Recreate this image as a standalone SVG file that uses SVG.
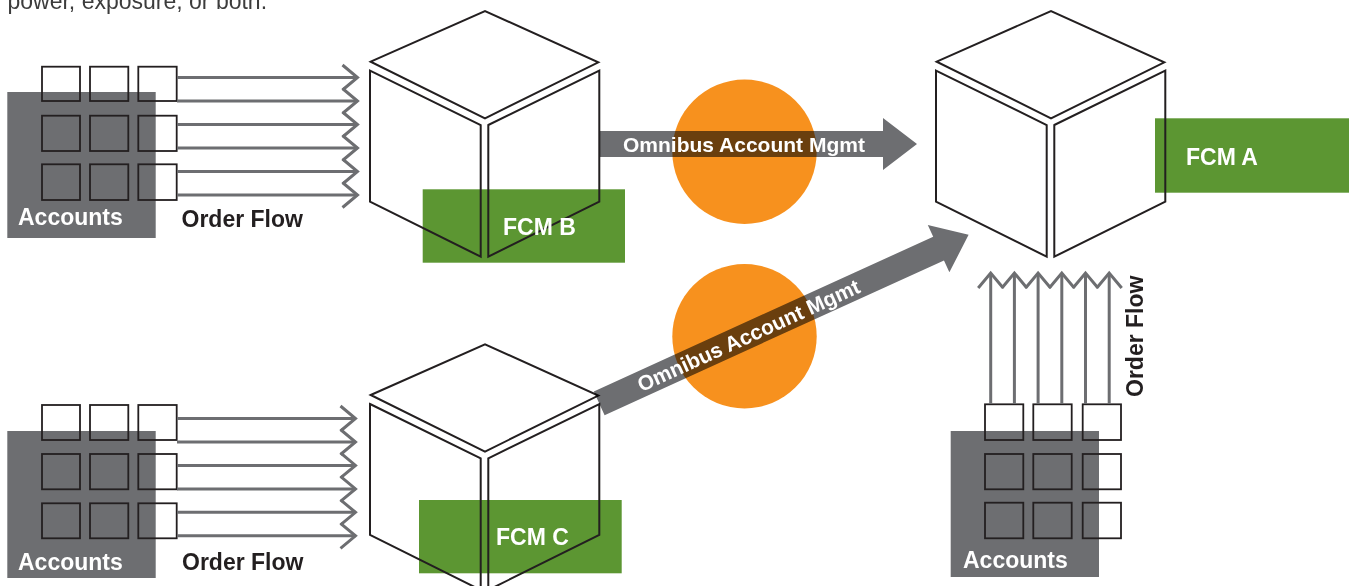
<svg xmlns="http://www.w3.org/2000/svg" width="1349" height="586" viewBox="0 0 1349 586">
<style>
.bg{fill:#ffffff}
.acct{fill:#6d6e71}
.sq{fill:none;stroke:#231f20;stroke-width:1.8}
.flow{fill:none;stroke:#6d6e71;stroke-width:3}
.cube{fill:none;stroke:#231f20;stroke-width:2;stroke-linejoin:miter}
.green{fill:#5c9632}
.orange{fill:#f7911e}
.omni{fill:#6d6e71;mix-blend-mode:multiply}
.lbl{font-family:"Liberation Sans",Arial,Helvetica,sans-serif;font-weight:bold;font-size:23px}
.w{fill:#ffffff}
.k{fill:#231f20}
.om{font-family:"Liberation Sans",Arial,Helvetica,sans-serif;font-weight:bold;font-size:21px;fill:#ffffff}
.cap{font-family:"Liberation Sans",Arial,Helvetica,sans-serif;font-size:23px;fill:#3c3c3c}
</style>
<defs>
<marker id="chev" markerUnits="userSpaceOnUse" markerWidth="40" markerHeight="40" viewBox="-20 -20 40 40" refX="0" refY="0" orient="auto" overflow="visible">
<path d="M-15,-12.5 L0,0 L-15,12.5" fill="none" stroke="#6d6e71" stroke-width="3"/>
</marker>
<g id="cubeShape">
<path class="cube" d="M370.7,61.7 L485,11 L598.3,62.3 L485,118.3 Z"/>
<path class="cube" d="M370,70.7 L480.7,125 L480.7,256.7 L370,201.7 Z"/>
<path class="cube" d="M488.3,125 L599.3,70.7 L599.3,201.7 L488.3,256.7 Z"/>
</g>
</defs>
<rect class="bg" x="0" y="0" width="1349" height="586"/>
<text class="cap" x="7.5" y="9">power, exposure, or both.</text>

<g id="circles">
<circle class="orange" cx="744.5" cy="151.7" r="72.2"/>
<circle class="orange" cx="744.5" cy="336.3" r="72.2"/>
</g>

<g id="accounts-b">
<rect class="acct" x="7.3" y="92" width="148.4" height="146"/>
<rect class="sq" x="42" y="66.7" width="38" height="34.3"/>
<rect class="sq" x="90" y="66.7" width="38.3" height="34.3"/>
<rect class="sq" x="138.3" y="66.7" width="38.4" height="34.3"/>
<rect class="sq" x="42" y="115.7" width="38" height="35.3"/>
<rect class="sq" x="90" y="115.7" width="38.3" height="35.3"/>
<rect class="sq" x="138.3" y="115.7" width="38.4" height="35.3"/>
<rect class="sq" x="42" y="164.3" width="38" height="35.7"/>
<rect class="sq" x="90" y="164.3" width="38.3" height="35.7"/>
<rect class="sq" x="138.3" y="164.3" width="38.4" height="35.7"/>
<text class="lbl w" x="18" y="225">Accounts</text>
</g>

<g id="accounts-c">
<rect class="acct" x="7.3" y="431" width="148.4" height="147"/>
<rect class="sq" x="42" y="405" width="38" height="35"/>
<rect class="sq" x="90" y="405" width="38.3" height="35"/>
<rect class="sq" x="138.3" y="405" width="38.4" height="35"/>
<rect class="sq" x="42" y="454" width="38" height="35.3"/>
<rect class="sq" x="90" y="454" width="38.3" height="35.3"/>
<rect class="sq" x="138.3" y="454" width="38.4" height="35.3"/>
<rect class="sq" x="42" y="503.3" width="38" height="35"/>
<rect class="sq" x="90" y="503.3" width="38.3" height="35"/>
<rect class="sq" x="138.3" y="503.3" width="38.4" height="35"/>
<text class="lbl w" x="18" y="570">Accounts</text>
</g>

<g id="accounts-a">
<rect class="acct" x="950.7" y="431" width="148.3" height="146"/>
<rect class="sq" x="985" y="404.3" width="38.3" height="35.7"/>
<rect class="sq" x="1033.3" y="404.3" width="38.4" height="35.7"/>
<rect class="sq" x="1082.7" y="404.3" width="38.3" height="35.7"/>
<rect class="sq" x="985" y="454" width="38.3" height="35.3"/>
<rect class="sq" x="1033.3" y="454" width="38.4" height="35.3"/>
<rect class="sq" x="1082.7" y="454" width="38.3" height="35.3"/>
<rect class="sq" x="985" y="502.7" width="38.3" height="35.6"/>
<rect class="sq" x="1033.3" y="502.7" width="38.4" height="35.6"/>
<rect class="sq" x="1082.7" y="502.7" width="38.3" height="35.6"/>
<text class="lbl w" x="963" y="568">Accounts</text>
</g>

<g id="fcm-b">
<rect class="green" x="422.7" y="189.3" width="202.3" height="73.4"/>
<use href="#cubeShape"/>
<text class="lbl w" x="503" y="235">FCM B</text>
</g>

<g id="fcm-a">
<rect class="green" x="1155" y="118.3" width="194" height="74.4"/>
<use href="#cubeShape" transform="translate(566,0)"/>
<text class="lbl w" x="1186" y="165">FCM A</text>
</g>

<g id="fcm-c">
<rect class="green" x="419" y="500" width="202.7" height="73.3"/>
<use href="#cubeShape" transform="translate(0,333.3)"/>
<text class="lbl w" x="496" y="545">FCM C</text>
</g>

<g id="connectors">
<g id="flow-b">
<line class="flow" x1="177" y1="77.5" x2="357.5" y2="77.5" marker-end="url(#chev)"/>
<line class="flow" x1="177" y1="101" x2="357.5" y2="101" marker-end="url(#chev)"/>
<line class="flow" x1="177" y1="124.5" x2="357.5" y2="124.5" marker-end="url(#chev)"/>
<line class="flow" x1="177" y1="148" x2="357.5" y2="148" marker-end="url(#chev)"/>
<line class="flow" x1="177" y1="171.5" x2="357.5" y2="171.5" marker-end="url(#chev)"/>
<line class="flow" x1="177" y1="195" x2="357.5" y2="195" marker-end="url(#chev)"/>
<text class="lbl k" x="181.5" y="226.5">Order Flow</text>
</g>
<g id="flow-c">
<line class="flow" x1="177" y1="418.5" x2="355.5" y2="418.5" marker-end="url(#chev)"/>
<line class="flow" x1="177" y1="442" x2="355.5" y2="442" marker-end="url(#chev)"/>
<line class="flow" x1="177" y1="465.4" x2="355.5" y2="465.4" marker-end="url(#chev)"/>
<line class="flow" x1="177" y1="488.9" x2="355.5" y2="488.9" marker-end="url(#chev)"/>
<line class="flow" x1="177" y1="512.3" x2="355.5" y2="512.3" marker-end="url(#chev)"/>
<line class="flow" x1="177" y1="535.8" x2="355.5" y2="535.8" marker-end="url(#chev)"/>
<text class="lbl k" x="182" y="570">Order Flow</text>
</g>
<g id="flow-a">
<line class="flow" x1="990.7" y1="404" x2="990.7" y2="273" marker-end="url(#chev)"/>
<line class="flow" x1="1014.4" y1="404" x2="1014.4" y2="273" marker-end="url(#chev)"/>
<line class="flow" x1="1038.1" y1="404" x2="1038.1" y2="273" marker-end="url(#chev)"/>
<line class="flow" x1="1061.8" y1="404" x2="1061.8" y2="273" marker-end="url(#chev)"/>
<line class="flow" x1="1085.5" y1="404" x2="1085.5" y2="273" marker-end="url(#chev)"/>
<line class="flow" x1="1109.2" y1="404" x2="1109.2" y2="273" marker-end="url(#chev)"/>
<text class="lbl k" transform="translate(1143,397) rotate(-90)">Order Flow</text>
</g>
<g id="omnibus-b-a">
<polygon class="omni" points="600,131 883,131 883,118 917,144 883,170 883,157 600,157"/>
<text class="om" x="623" y="151.5">Omnibus Account Mgmt</text>
</g>
<g id="omnibus-c-a" transform="translate(599.2,403.3) rotate(-24.51)">
<polygon class="omni" points="0,-13 373,-13 373,-26 406,0 373,26 373,13 0,13"/>
<text class="om" x="43" y="7.5">Omnibus Account Mgmt</text>
</g>
</g>
</svg>
